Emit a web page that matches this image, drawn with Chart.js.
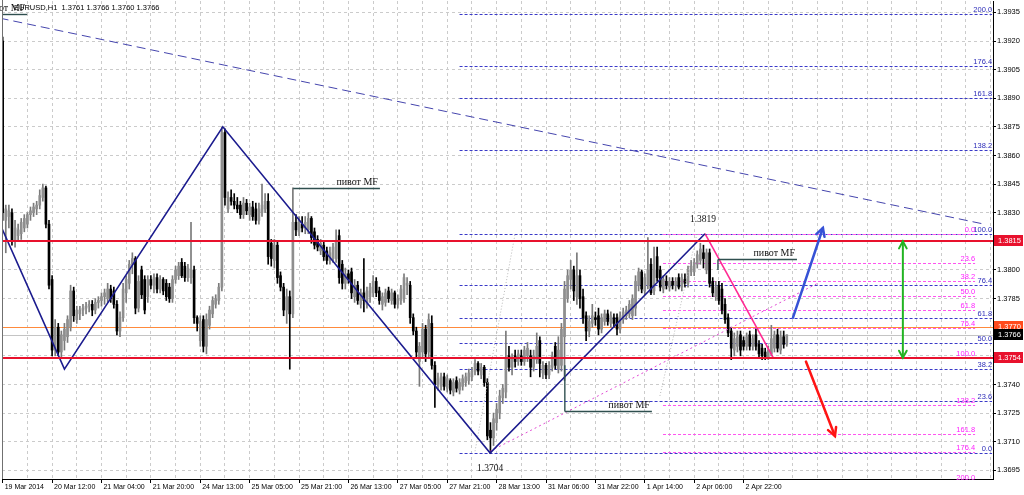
<!DOCTYPE html>
<html>
<head>
<meta charset="utf-8">
<title>EURUSD,H1</title>
<script src="https://cdn.jsdelivr.net/npm/chart.js@4.4.1/dist/chart.umd.min.js"></script>
<style>
  html, body { margin: 0; padding: 0; background: #fff; }
  canvas { display: block; }
</style>
</head>
<body>
<canvas id="chart" width="1024" height="495"></canvas>
<script>
// hourly bars (bar 0 = first visible bar)
const opens = [
  1.3920,1.3826,1.3828,1.3830,1.3815,1.3818,1.3819,1.3822,1.3824,1.3829,
  1.3830,1.3832,1.3834,1.3838,1.3843,1.3824,1.3795,1.3758,1.3770,1.3757,
  1.3763,1.3765,1.3770,1.3789,1.3774,1.3777,1.3779,1.3780,1.3781,1.3782,
  1.3779,1.3783,1.3784,1.3786,1.3785,1.3790,1.3789,1.3782,1.3768,1.3775,
  1.3788,1.3793,1.3803,1.3806,1.3780,1.3800,1.3795,1.3786,1.3795,1.3792,
  1.3796,1.3790,1.3795,1.3793,1.3791,1.3785,1.3795,1.3797,1.3804,1.3802,
  1.3796,1.3796,1.3800,1.3775,1.3763,1.3774,1.3760,1.3771,1.3777,1.3782,
  1.3784,1.3791,1.3872,1.3832,1.3838,1.3836,1.3834,1.3834,1.3829,1.3835,
  1.3829,1.3833,1.3832,1.3826,1.3830,1.3832,1.3836,1.3814,1.3805,1.3813,
  1.3797,1.3791,1.3779,1.3786,1.3777,1.3825,1.3820,1.3824,1.3822,1.3821,
  1.3827,1.3820,1.3816,1.3810,1.3813,1.3810,1.3805,1.3806,1.3806,1.3818,
  1.3803,1.3793,1.3798,1.3799,1.3786,1.3792,1.3782,1.3788,1.3782,1.3786,
  1.3788,1.3794,1.3789,1.3782,1.3783,1.3789,1.3784,1.3788,1.3782,1.3784,
  1.3785,1.3792,1.3792,1.3775,1.3768,1.3752,1.3757,1.3769,1.3757,1.3772,
  1.3750,1.3740,1.3739,1.3744,1.3738,1.3742,1.3736,1.3742,1.3737,1.3739,
  1.3741,1.3742,1.3744,1.3747,1.3751,1.3745,1.3749,1.3741,1.3716,1.3712,
  1.3720,1.3725,1.3733,1.3736,1.3755,1.3749,1.3755,1.3752,1.3755,1.3752,
  1.3755,1.3755,1.3749,1.3753,1.3763,1.3746,1.3750,1.3745,1.3749,1.3760,
  1.3748,1.3750,1.3765,1.3785,1.3795,1.3800,1.3786,1.3797,1.3786,1.3776,
  1.3768,1.3772,1.3775,1.3776,1.3769,1.3773,1.3777,1.3772,1.3775,1.3775,
  1.3769,1.3774,1.3776,1.3777,1.3776,1.3780,1.3792,1.3799,1.3789,1.3792,
  1.3803,1.3789,1.3807,1.3800,1.3790,1.3794,1.3791,1.3794,1.3792,1.3796,
  1.3791,1.3795,1.3793,1.3799,1.3799,1.3803,1.3805,1.3809,1.3800,1.3809,
  1.3794,1.3786,1.3792,1.3790,1.3782,1.3775,1.3768,1.3758,1.3760,1.3766,
  1.3763,1.3760,1.3766,1.3760,1.3766,1.3761,1.3759,1.3757,1.3754,1.3756,
  1.3759,1.3766,1.3758,1.3765,1.3761
];
const highs = [
  1.3922,1.3834,1.3834,1.3832,1.3826,1.3824,1.3827,1.3829,1.3830,1.3833,
  1.3835,1.3836,1.3842,1.3845,1.3844,1.3826,1.3797,1.3774,1.3772,1.3768,
  1.3772,1.3776,1.3792,1.3791,1.3781,1.3781,1.3782,1.3783,1.3784,1.3784,
  1.3785,1.3786,1.3788,1.3790,1.3793,1.3792,1.3791,1.3784,1.3778,1.3793,
  1.3797,1.3805,1.3809,1.3807,1.3797,1.3802,1.3797,1.3797,1.3797,1.3798,
  1.3798,1.3797,1.3796,1.3795,1.3793,1.3797,1.3802,1.3804,1.3806,1.3804,
  1.3803,1.3825,1.3802,1.3776,1.3776,1.3776,1.3777,1.3781,1.3786,1.3787,
  1.3793,1.3875,1.3874,1.3841,1.3842,1.3840,1.3838,1.3836,1.3838,1.3837,
  1.3835,1.3836,1.3835,1.3835,1.3845,1.3840,1.3840,1.3816,1.3816,1.3815,
  1.3799,1.3793,1.3790,1.3789,1.3843,1.3829,1.3828,1.3828,1.3828,1.3830,
  1.3828,1.3822,1.3818,1.3816,1.3815,1.3812,1.3812,1.3814,1.3821,1.3821,
  1.3805,1.3801,1.3800,1.3801,1.3795,1.3794,1.3790,1.3806,1.3791,1.3793,
  1.3797,1.3796,1.3791,1.3788,1.3790,1.3791,1.3790,1.3789,1.3787,1.3792,
  1.3798,1.3796,1.3794,1.3777,1.3770,1.3762,1.3772,1.3771,1.3777,1.3776,
  1.3752,1.3746,1.3746,1.3746,1.3745,1.3743,1.3743,1.3744,1.3743,1.3745,
  1.3746,1.3748,1.3749,1.3753,1.3752,1.3751,1.3750,1.3743,1.3720,1.3725,
  1.3730,1.3737,1.3740,1.3768,1.3760,1.3756,1.3758,1.3758,1.3758,1.3760,
  1.3762,1.3758,1.3758,1.3767,1.3765,1.3752,1.3751,1.3752,1.3757,1.3762,
  1.3765,1.3772,1.3794,1.3800,1.3805,1.3802,1.3809,1.3800,1.3790,1.3778,
  1.3776,1.3782,1.3778,1.3780,1.3777,1.3779,1.3779,1.3778,1.3777,1.3777,
  1.3778,1.3780,1.3781,1.3784,1.3787,1.3797,1.3801,1.3800,1.3798,1.3817,
  1.3806,1.3812,1.3812,1.3802,1.3797,1.3797,1.3796,1.3796,1.3796,1.3798,
  1.3798,1.3798,1.3802,1.3805,1.3806,1.3810,1.3814,1.3813,1.3811,1.3811,
  1.3796,1.3794,1.3794,1.3793,1.3785,1.3777,1.3770,1.3767,1.3768,1.3768,
  1.3765,1.3767,1.3768,1.3766,1.3769,1.3763,1.3761,1.3759,1.3760,1.3771,
  1.3768,1.3769,1.3768,1.3768,1.3766
];
const lows = [
  1.3826,1.3809,1.3822,1.3813,1.3812,1.3815,1.3816,1.3820,1.3822,1.3826,
  1.3828,1.3829,1.3832,1.3836,1.3822,1.3790,1.3755,1.3755,1.3755,1.3754,
  1.3758,1.3762,1.3768,1.3773,1.3772,1.3774,1.3776,1.3777,1.3778,1.3776,
  1.3777,1.3780,1.3781,1.3782,1.3783,1.3783,1.3780,1.3766,1.3765,1.3773,
  1.3783,1.3790,1.3798,1.3777,1.3778,1.3785,1.3777,1.3783,1.3790,1.3788,
  1.3788,1.3788,1.3787,1.3784,1.3783,1.3783,1.3793,1.3795,1.3796,1.3794,
  1.3794,1.3793,1.3772,1.3768,1.3760,1.3757,1.3756,1.3769,1.3775,1.3780,
  1.3782,1.3789,1.3834,1.3830,1.3834,1.3832,1.3830,1.3827,1.3827,1.3829,
  1.3826,1.3826,1.3824,1.3824,1.3828,1.3830,1.3803,1.3802,1.3801,1.3793,
  1.3789,1.3776,1.3772,1.3748,1.3775,1.3818,1.3818,1.3820,1.3819,1.3819,
  1.3814,1.3811,1.3810,1.3808,1.3805,1.3803,1.3803,1.3804,1.3804,1.3793,
  1.3790,1.3790,1.3793,1.3785,1.3783,1.3782,1.3780,1.3778,1.3780,1.3783,
  1.3786,1.3786,1.3782,1.3779,1.3781,1.3783,1.3782,1.3780,1.3780,1.3782,
  1.3783,1.3787,1.3772,1.3766,1.3754,1.3739,1.3754,1.3752,1.3754,1.3748,
  1.3728,1.3737,1.3737,1.3737,1.3736,1.3735,1.3734,1.3736,1.3735,1.3737,
  1.3739,1.3740,1.3742,1.3745,1.3745,1.3743,1.3739,1.3711,1.3704,1.3708,
  1.3716,1.3722,1.3730,1.3733,1.3747,1.3745,1.3749,1.3750,1.3750,1.3750,
  1.3752,1.3744,1.3747,1.3751,1.3744,1.3743,1.3743,1.3743,1.3747,1.3748,
  1.3746,1.3747,1.3742,1.3783,1.3790,1.3784,1.3782,1.3780,1.3772,1.3763,
  1.3765,1.3770,1.3771,1.3766,1.3767,1.3771,1.3771,1.3770,1.3770,1.3766,
  1.3767,1.3772,1.3774,1.3775,1.3774,1.3776,1.3789,1.3788,1.3787,1.3790,
  1.3787,1.3787,1.3794,1.3789,1.3788,1.3790,1.3789,1.3790,1.3789,1.3790,
  1.3789,1.3791,1.3791,1.3797,1.3797,1.3801,1.3803,1.3801,1.3798,1.3791,
  1.3786,1.3784,1.3782,1.3777,1.3772,1.3765,1.3753,1.3755,1.3757,1.3755,
  1.3758,1.3758,1.3758,1.3758,1.3758,1.3754,1.3753,1.3753,1.3753,1.3755,
  1.3757,1.3757,1.3756,1.3759,1.3760
];
const closes = [
  1.3830,1.3832,1.3831,1.3815,1.3822,1.3821,1.3825,1.3827,1.3829,1.3831,
  1.3833,1.3834,1.3839,1.3843,1.3824,1.3792,1.3758,1.3770,1.3757,1.3766,
  1.3769,1.3774,1.3789,1.3776,1.3779,1.3779,1.3780,1.3781,1.3782,1.3779,
  1.3783,1.3784,1.3786,1.3788,1.3790,1.3785,1.3782,1.3768,1.3775,1.3790,
  1.3795,1.3803,1.3806,1.3780,1.3794,1.3787,1.3779,1.3795,1.3792,1.3796,
  1.3790,1.3795,1.3789,1.3786,1.3785,1.3795,1.3800,1.3802,1.3797,1.3796,
  1.3801,1.3800,1.3775,1.3772,1.3773,1.3760,1.3774,1.3779,1.3784,1.3785,
  1.3791,1.3872,1.3838,1.3838,1.3836,1.3834,1.3832,1.3829,1.3835,1.3831,
  1.3833,1.3828,1.3826,1.3832,1.3834,1.3836,1.3807,1.3806,1.3813,1.3796,
  1.3791,1.3779,1.3786,1.3777,1.3825,1.3821,1.3826,1.3822,1.3825,1.3827,
  1.3817,1.3813,1.3812,1.3814,1.3807,1.3805,1.3809,1.3812,1.3815,1.3796,
  1.3793,1.3798,1.3795,1.3788,1.3792,1.3784,1.3788,1.3784,1.3789,1.3791,
  1.3794,1.3788,1.3784,1.3786,1.3788,1.3785,1.3788,1.3782,1.3785,1.3790,
  1.3796,1.3793,1.3775,1.3768,1.3757,1.3760,1.3769,1.3756,1.3774,1.3750,
  1.3740,1.3743,1.3744,1.3739,1.3743,1.3737,1.3741,1.3738,1.3741,1.3743,
  1.3744,1.3746,1.3747,1.3751,1.3747,1.3749,1.3741,1.3713,1.3712,1.3722,
  1.3727,1.3734,1.3738,1.3754,1.3749,1.3754,1.3752,1.3756,1.3752,1.3758,
  1.3759,1.3749,1.3755,1.3760,1.3751,1.3750,1.3745,1.3750,1.3755,1.3750,
  1.3758,1.3769,1.3790,1.3797,1.3800,1.3789,1.3797,1.3785,1.3775,1.3768,
  1.3773,1.3776,1.3774,1.3769,1.3775,1.3777,1.3773,1.3776,1.3772,1.3769,
  1.3776,1.3778,1.3779,1.3782,1.3785,1.3794,1.3799,1.3790,1.3796,1.3800,
  1.3788,1.3800,1.3796,1.3791,1.3795,1.3792,1.3794,1.3792,1.3794,1.3791,
  1.3796,1.3793,1.3800,1.3802,1.3804,1.3808,1.3811,1.3806,1.3809,1.3793,
  1.3788,1.3791,1.3784,1.3779,1.3774,1.3767,1.3759,1.3764,1.3765,1.3758,
  1.3760,1.3765,1.3760,1.3764,1.3760,1.3756,1.3755,1.3754,1.3758,1.3764,
  1.3766,1.3759,1.3765,1.3761,1.3766
];

// one time label every 16 bars
const timeLabels = ['19 Mar 2014', '20 Mar 12:00', '21 Mar 04:00', '21 Mar 20:00', '24 Mar 13:00',
  '25 Mar 05:00', '25 Mar 21:00', '26 Mar 13:00', '27 Mar 05:00', '27 Mar 21:00', '28 Mar 13:00',
  '31 Mar 06:00', '31 Mar 22:00', '1 Apr 14:00', '2 Apr 06:00', '2 Apr 22:00'];
const priceTicks = [1.3695, 1.3710, 1.3725, 1.3740, 1.3755, 1.3770, 1.3785, 1.3800, 1.3815,
  1.3830, 1.3845, 1.3860, 1.3875, 1.3890, 1.3905, 1.3920, 1.3935];

// drawn objects, in (bar index, price)
const zigzagIdx = [-0.3, 20, 71.3, 157.9, 227.5];
const zigzagPrice = [1.3822, 1.3748, 1.3875, 1.3704, 1.3819];
const dropIdx = [227.5, 249.6];
const dropPrice = [1.3819, 1.3754];
const trendIdx = [-1, 318];
const trendPrice = [1.3932, 1.3824];
const fanIdx = [157.9, 264];
const fanPrice = [1.3705, 1.3793];
const baseAIdx = [153, 166];
const baseAPrice = [1.3705, 1.3819];
const baseBIdx = [212.9, 224.9];
const baseBPrice = [1.3734, 1.3819];

const fibRatios = [0, 23.6, 38.2, 50, 61.8, 76.4, 100, 138.2, 161.8, 176.4, 200];
const blueFibPrice = [1.3704, 1.3819];
const blueFibIdx = [148, 320.5];
const pinkFibPrice = [1.3819, 1.3754];
const pinkFibIdx = [213.9, 315];

const redLevels = [1.3815, 1.3754];
const askPrice = 1.3770;
const bidPrice = 1.3766;

const pivotStart = [94.1, 231.7, 182.1, -1];
const pivotEnd = [122.2, 257.3, 210.3, 7.9];
const pivotPrice = [1.3843, 1.3806, 1.3726, 1.3934];
const pivotStem = [null, 1.3800, 1.3750, null];

const upArrowIdx = [256, 265.7];
const upArrowPrice = [1.3775, 1.3822];
const downArrowIdx = [260.2, 269.6];
const downArrowPrice = [1.3752, 1.3713];
const rangeIdx = 291.6;
const rangePrice = [1.3815, 1.3754];

const pts = (xs, ys) => xs.map((x, i) => ({ x, y: ys[i] }));
const bull = i => closes[i] >= opens[i];
const last = closes.length - 1;

function seg(ctx, x1, y1, x2, y2) {
  ctx.beginPath();
  ctx.moveTo(x1, y1);
  ctx.lineTo(x2, y2);
  ctx.stroke();
}

function head(ctx, xt, yt, xf, yf, len) {
  const a = Math.atan2(yt - yf, xt - xf);
  ctx.beginPath();
  ctx.moveTo(xt - len * Math.cos(a - 0.5), yt - len * Math.sin(a - 0.5));
  ctx.lineTo(xt, yt);
  ctx.lineTo(xt - len * Math.cos(a + 0.5), yt - len * Math.sin(a + 0.5));
  ctx.stroke();
}

function fibPrice(anchors, r) {
  return anchors[0] + (anchors[1] - anchors[0]) * r / 100;
}

function clipArea(chart) {
  const a = chart.chartArea;
  chart.ctx.beginPath();
  chart.ctx.rect(a.left, a.top, a.right - a.left, a.bottom - a.top);
  chart.ctx.clip();
}

function priceBox(chart, p, bg) {
  const { ctx } = chart;
  const y = chart.scales.y.getPixelForValue(p);
  ctx.fillStyle = bg;
  ctx.fillRect(994, Math.round(y) - 6, 29, 11);
  ctx.fillStyle = '#fff';
  ctx.font = '7.5px "Liberation Sans"';
  ctx.textAlign = 'left';
  ctx.textBaseline = 'middle';
  ctx.fillText(p.toFixed(4), 998, y);
}

const overlay = {
  id: 'overlay',
  beforeDatasetsDraw(chart) {
    const { ctx, scales: { x, y } } = chart;
    ctx.save();
    clipArea(chart);
    const a = chart.chartArea;
    ctx.lineWidth = 1;
    ctx.strokeStyle = '#c4c4c4';
    let yy = Math.round(y.getPixelForValue(bidPrice)) + 0.5;
    seg(ctx, a.left, yy, a.right, yy);
    ctx.strokeStyle = '#ff8a3c';
    yy = Math.round(y.getPixelForValue(askPrice)) + 0.5;
    seg(ctx, a.left, yy, a.right, yy);

    ctx.setLineDash([3, 2]);
    ctx.strokeStyle = '#3a3ac8';
    fibRatios.forEach(r => {
      const fy = Math.round(y.getPixelForValue(fibPrice(blueFibPrice, r))) + 0.5;
      seg(ctx, x.getPixelForValue(blueFibIdx[0]), fy, x.getPixelForValue(blueFibIdx[1]), fy);
    });
    ctx.strokeStyle = '#ff55f0';
    fibRatios.forEach(r => {
      const fy = Math.round(y.getPixelForValue(fibPrice(pinkFibPrice, r))) + 0.5;
      seg(ctx, x.getPixelForValue(pinkFibIdx[0]), fy, x.getPixelForValue(pinkFibIdx[1]), fy);
    });
    ctx.restore();
  },
  afterDatasetsDraw(chart) {
    const { ctx, scales: { x, y } } = chart;
    const a = chart.chartArea;
    ctx.save();
    clipArea(chart);
    ctx.strokeStyle = '#e8112d';
    ctx.lineWidth = 2;
    redLevels.forEach(p => {
      const ry = Math.round(y.getPixelForValue(p));
      seg(ctx, a.left, ry, a.right, ry);
    });

    ctx.strokeStyle = '#2f4f4f';
    ctx.lineWidth = 1.4;
    pivotPrice.forEach((p, k) => {
      const py = Math.round(y.getPixelForValue(p)) + 0.5;
      const x1 = x.getPixelForValue(pivotStart[k]);
      seg(ctx, x1, py, x.getPixelForValue(pivotEnd[k]), py);
      if (pivotStem[k] !== null) seg(ctx, x1, py, x1, y.getPixelForValue(pivotStem[k]));
    });

    ctx.lineCap = 'round';
    ctx.lineWidth = 2.5;
    ctx.strokeStyle = '#3652d6';
    let x1 = x.getPixelForValue(upArrowIdx[0]), y1 = y.getPixelForValue(upArrowPrice[0]);
    let x2 = x.getPixelForValue(upArrowIdx[1]), y2 = y.getPixelForValue(upArrowPrice[1]);
    seg(ctx, x1, y1, x2, y2);
    head(ctx, x2, y2, x1, y1, 9);

    ctx.strokeStyle = '#ff1414';
    x1 = x.getPixelForValue(downArrowIdx[0]); y1 = y.getPixelForValue(downArrowPrice[0]);
    x2 = x.getPixelForValue(downArrowIdx[1]); y2 = y.getPixelForValue(downArrowPrice[1]);
    seg(ctx, x1, y1, x2, y2);
    head(ctx, x2, y2, x1, y1, 9);

    ctx.strokeStyle = '#22b422';
    ctx.lineWidth = 2;
    const gx = x.getPixelForValue(rangeIdx);
    y1 = y.getPixelForValue(rangePrice[0]);
    y2 = y.getPixelForValue(rangePrice[1]);
    seg(ctx, gx, y1, gx, y2);
    head(ctx, gx, y1, gx, y2, 8);
    head(ctx, gx, y2, gx, y1, 8);
    ctx.restore();

    // texts
    ctx.save();
    ctx.font = '7.5px "Liberation Sans"';
    ctx.textAlign = 'right';
    ctx.textBaseline = 'alphabetic';
    ctx.fillStyle = '#2c2cb8';
    fibRatios.forEach(r => {
      ctx.fillText(r.toFixed(1), x.getPixelForValue(blueFibIdx[1]), y.getPixelForValue(fibPrice(blueFibPrice, r)) - 2);
    });
    ctx.fillStyle = '#ff22ff';
    fibRatios.forEach(r => {
      ctx.fillText(r.toFixed(1), x.getPixelForValue(pinkFibIdx[1]), y.getPixelForValue(fibPrice(pinkFibPrice, r)) - 2);
    });

    ctx.fillStyle = '#111';
    ctx.font = '10px "Liberation Serif"';
    pivotPrice.forEach((p, k) => {
      ctx.fillText('пивот MF', x.getPixelForValue(pivotEnd[k]) - 2, y.getPixelForValue(p) - 3);
    });

    ctx.textAlign = 'center';
    ctx.textBaseline = 'middle';
    ctx.font = '9.5px "Liberation Serif"';
    ctx.fillText(zigzagPrice[4].toFixed(4), x.getPixelForValue(zigzagIdx[4]) - 2, y.getPixelForValue(zigzagPrice[4]) - 14);
    ctx.fillText(zigzagPrice[3].toFixed(4), x.getPixelForValue(zigzagIdx[3]), y.getPixelForValue(zigzagPrice[3]) + 15);
    ctx.restore();
  },
  afterDraw(chart) {
    const { ctx } = chart;
    const a = chart.chartArea;
    ctx.save();
    ctx.strokeStyle = '#707070';
    ctx.lineWidth = 1;
    seg(ctx, a.left + 0.5, 0, a.left + 0.5, a.bottom);

    ctx.fillStyle = '#000';
    ctx.font = '7.5px "Liberation Sans"';
    ctx.textAlign = 'left';
    ctx.textBaseline = 'middle';
    const hdr = 'EURUSD,H1  ' + [opens[last], highs[last], lows[last], closes[last]].map(v => v.toFixed(4)).join(' ');
    ctx.fillText(hdr, 14, 8);

    priceBox(chart, redLevels[0], '#e8112d');
    priceBox(chart, askPrice, '#ff4a1c');
    priceBox(chart, bidPrice, '#000');
    priceBox(chart, redLevels[1], '#e8112d');
    ctx.restore();
  }
};

Chart.defaults.font.family = '"Liberation Sans", Arial, sans-serif';

new Chart(document.getElementById('chart'), {
  type: 'bar',
  data: {
    datasets: [
      { type: 'line', data: pts(zigzagIdx, zigzagPrice), borderColor: '#1b1b8e', borderWidth: 1.6, pointRadius: 0, order: 0 },
      { type: 'line', data: pts(dropIdx, dropPrice), borderColor: '#ff2a92', borderWidth: 1.6, pointRadius: 0, order: 0 },
      { type: 'line', data: pts(trendIdx, trendPrice), borderColor: '#4545ad', borderWidth: 1, borderDash: [9, 5], pointRadius: 0, order: 1 },
      { type: 'line', data: pts(fanIdx, fanPrice), borderColor: '#e24ad4', borderWidth: 1, borderDash: [2, 3], pointRadius: 0, order: 1 },
      { type: 'line', data: pts(baseAIdx, baseAPrice), borderColor: '#b8b8b8', borderWidth: 1, borderDash: [1, 2], pointRadius: 0, order: 2 },
      { type: 'line', data: pts(baseBIdx, baseBPrice), borderColor: '#b8b8b8', borderWidth: 1, borderDash: [1, 2], pointRadius: 0, order: 2 },
      {
        label: 'bodies',
        data: opens.map((o, i) => ({ x: i, y: [o, closes[i]] })),
        backgroundColor: c => bull(c.dataIndex) ? '#8e8e8e' : '#000',
        barThickness: 2, minBarLength: 1, grouped: false, order: 5
      },
      {
        label: 'wicks',
        data: opens.map((o, i) => ({ x: i, y: [lows[i], highs[i]] })),
        backgroundColor: c => bull(c.dataIndex) ? '#7a7a7a' : '#000',
        barThickness: 1, grouped: false, order: 6
      }
    ]
  },
  options: {
    responsive: false,
    animation: false,
    devicePixelRatio: 1,
    events: [],
    layout: { padding: { left: 2, top: 1, right: 0, bottom: 0 } },
    plugins: { legend: { display: false }, tooltip: { enabled: false } },
    scales: {
      x: {
        type: 'linear',
        min: -0.227,
        max: 320.8,
        offset: false,
        afterBuildTicks: s => {
          const t = [];
          for (let v = 0; v <= 320; v += 8) t.push({ value: v });
          s.ticks = t;
        },
        afterFit: s => { s.height = 16; s.paddingLeft = 0; s.paddingRight = 0; },
        ticks: {
          autoSkip: false, maxRotation: 0, minRotation: 0, align: 'start', padding: 0,
          color: '#000', font: { size: 7 },
          callback: v => (v % 16 === 0 && timeLabels[v / 16]) ? ' ' + timeLabels[v / 16] : ''
        },
        grid: {
          offset: false, color: '#cbcbcb', lineWidth: 1, tickLength: 4, tickBorderDash: [],
          tickColor: c => (c.tick && c.tick.value % 16 === 0 && c.tick.value / 16 < timeLabels.length) ? '#000' : 'rgba(0,0,0,0)'
        },
        border: { display: true, color: '#000', width: 1, dash: [3, 3] }
      },
      y: {
        type: 'linear',
        position: 'right',
        min: 1.369044,
        max: 1.394097,
        afterBuildTicks: s => { s.ticks = priceTicks.map(v => ({ value: v })); },
        afterFit: s => { s.width = 31; s.paddingTop = 0; s.paddingBottom = 0; },
        ticks: { color: '#000', font: { size: 7.5 }, padding: 1, callback: v => v.toFixed(4) },
        grid: { color: '#cbcbcb', lineWidth: 1, tickLength: 3, tickBorderDash: [], tickColor: '#000' },
        border: { display: true, color: '#000', width: 1, dash: [3, 3] }
      }
    }
  },
  plugins: [overlay]
});
</script>
</body>
</html>
